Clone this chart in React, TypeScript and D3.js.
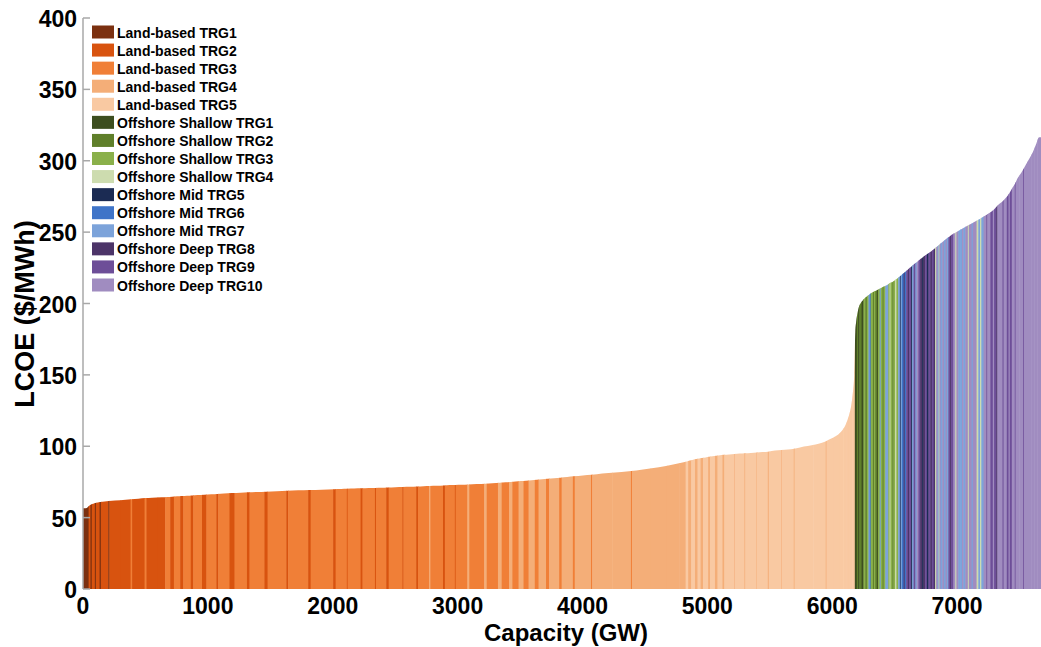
import React from 'react';
import * as d3 from 'd3';

const categories = [
  'Land-based TRG1', 'Land-based TRG2', 'Land-based TRG3', 'Land-based TRG4', 'Land-based TRG5',
  'Offshore Shallow TRG1', 'Offshore Shallow TRG2', 'Offshore Shallow TRG3', 'Offshore Shallow TRG4',
  'Offshore Mid TRG5', 'Offshore Mid TRG6', 'Offshore Mid TRG7',
  'Offshore Deep TRG8', 'Offshore Deep TRG9', 'Offshore Deep TRG10',
];
const categoryColors = [
  '#7b3010', '#d8530f', '#f07f37', '#f4ae78', '#f9c9a2',
  '#3d4e1f', '#5f7f2a', '#8ab04a', '#cddcaf',
  '#1b2b53', '#3f74c8', '#7ca3da',
  '#4c3468', '#6d4e98', '#a08cc0',
];
const xTicks = [0, 1000, 2000, 3000, 4000, 5000, 6000, 7000];
const yTicks = [0, 50, 100, 150, 200, 250, 300, 350, 400];

// [category index, capacity (GW), LCOE ($/MWh)]
const onshoreBlocks: [number, number, number][] = [
  [0, 45, 56.5], [1, 15, 58.5], [0, 10, 59.2], [1, 25, 59.8], [0, 8, 60.2],
  [1, 30, 60.6], [0, 10, 60.9], [1, 60, 61.3], [0, 8, 61.6], [1, 90, 62.0],
  [1, 80, 62.6], [2, 12, 62.9], [1, 100, 63.3], [2, 15, 63.7], [1, 90, 64.0],
  [1, 60, 64.3], [2, 40, 64.5], [1, 30, 64.7], [2, 50, 64.9], [1, 25, 65.1],
  [2, 60, 65.3], [1, 20, 65.5], [2, 70, 65.8], [1, 35, 66.1], [2, 80, 66.4],
  [1, 15, 66.6], [2, 90, 66.9], [1, 40, 67.2], [2, 100, 67.5], [1, 20, 67.7],
  [2, 120, 68.0], [1, 25, 68.2], [2, 150, 68.5], [1, 15, 68.8], [2, 160, 69.1],
  [1, 20, 69.3], [2, 180, 69.6], [1, 20, 69.9], [2, 90, 70.05], [1, 6, 70.2],
  [2, 104, 70.35], [1, 15, 70.5], [2, 100, 70.7], [1, 8, 70.8], [2, 82, 70.9],
  [1, 20, 71.1], [2, 110, 71.35], [1, 8, 71.5], [2, 102, 71.6], [1, 15, 71.8],
  [2, 90, 72.05], [3, 8, 72.2], [2, 102, 72.3], [1, 15, 72.5], [2, 80, 72.8],
  [1, 6, 72.9], [2, 94, 73.0], [3, 15, 73.2], [2, 120, 73.5], [3, 20, 73.8],
  [2, 90, 74.1], [3, 30, 74.4], [2, 60, 74.7], [3, 25, 75.0], [2, 50, 75.3],
  [3, 40, 75.6], [2, 40, 75.9], [3, 50, 76.2], [2, 30, 76.5], [3, 60, 76.9],
  [2, 25, 77.2], [3, 80, 77.6], [2, 20, 78.0], [3, 90, 78.5], [2, 15, 78.9],
  [3, 130, 79.5], [2, 10, 80.0], [3, 160, 80.9], [3, 150, 82.0], [2, 8, 82.6],
  [3, 150, 83.6], [3, 130, 85.3], [3, 100, 87.2], [3, 50, 88.6], [4, 20, 89.4],
  [3, 25, 90.0], [4, 30, 90.6], [3, 20, 91.0], [4, 25, 91.4], [3, 20, 91.8],
  [4, 40, 92.2], [3, 15, 92.6], [4, 40, 93.0], [3, 20, 93.4], [4, 40, 93.7],
  [3, 15, 94.0], [4, 80, 94.3], [3, 5, 94.6], [4, 75, 94.9], [3, 8, 95.1],
  [4, 90, 95.3], [3, 5, 95.6], [4, 85, 95.9], [3, 8, 96.2], [4, 100, 97.0],
  [3, 5, 97.4], [4, 95, 97.8], [3, 6, 98.3], [4, 150, 99.8], [4, 100, 102.0],
  [3, 6, 103.5], [4, 60, 105.0], [4, 45, 107.5], [4, 30, 110.5], [4, 25, 114.0],
  [4, 20, 119.0], [4, 15, 124.0], [4, 12, 130.0], [4, 10, 138.0], [4, 10, 150.0],
];

const offshoreBlocks: [number, number, number][] = [
  [5, 8, 180], [5, 8, 188], [6, 10, 193], [5, 10, 197], [6, 18, 200],
  [5, 15, 202], [7, 15, 203.5], [6, 12, 204.5], [7, 13, 205.5], [11, 10, 206.2],
  [10, 8, 206.8], [7, 18, 207.5], [6, 8, 208], [7, 10, 208.5], [6, 14, 209],
  [5, 8, 209.5], [7, 14, 210], [11, 8, 210.5], [7, 15, 211], [6, 8, 211.5],
  [7, 14, 212], [11, 12, 212.6], [11, 12, 213.2], [7, 10, 213.8], [8, 8, 214.3],
  [7, 15, 214.8], [6, 8, 215.3], [7, 14, 216], [8, 10, 216.8], [7, 14, 217.5],
  [11, 14, 218.5], [9, 6, 219.2], [11, 10, 219.8], [10, 14, 220.8], [12, 8, 221.5],
  [10, 12, 222.3], [13, 14, 223.3], [12, 10, 224.2], [13, 16, 225.3], [9, 8, 226],
  [11, 12, 226.8], [13, 14, 227.8], [11, 10, 228.6], [14, 14, 229.5], [13, 14, 230.5],
  [12, 16, 231.5], [9, 10, 232.3], [12, 14, 233.2], [13, 14, 234], [9, 12, 234.8],
  [13, 16, 235.7], [12, 12, 236.5], [13, 14, 237.4], [12, 12, 238.3], [8, 8, 239],
  [14, 12, 239.8], [11, 8, 240.5], [8, 6, 241], [14, 10, 241.7], [11, 14, 242.6],
  [14, 12, 243.5], [11, 14, 244.4], [14, 10, 245.2], [11, 12, 246], [13, 14, 246.8],
  [12, 8, 247.5], [13, 18, 248.3], [14, 16, 249.2], [8, 8, 249.8], [14, 16, 250.5],
  [11, 14, 251.2], [11, 16, 252], [14, 10, 252.6], [11, 16, 253.3], [14, 20, 254.2],
  [8, 8, 254.8], [14, 22, 255.6], [11, 10, 256.2], [14, 30, 257.3], [8, 14, 258.3],
  [11, 14, 259], [8, 10, 259.6], [11, 18, 260.4], [14, 22, 261.4], [13, 8, 262.1],
  [14, 24, 263.2], [13, 20, 264.5], [14, 10, 265.5], [13, 18, 266.8], [12, 8, 268],
  [14, 20, 269.3], [14, 22, 270.8], [13, 8, 271.8], [14, 26, 273.5], [13, 14, 275.5],
  [14, 10, 277], [13, 16, 279], [14, 24, 282], [13, 6, 284], [14, 30, 287.5],
  [14, 30, 291.5], [13, 6, 294], [14, 30, 297], [14, 30, 301.5], [14, 24, 306],
  [14, 24, 311], [14, 30, 316.5],
];

const FONT = 'Arial, "Liberation Sans", sans-serif';

export default function App() {
  const width = 1041;
  const height = 647;
  const x = d3.scaleLinear().domain([0, 7672]).range([83, 1041]);
  const y = d3.scaleLinear().domain([0, 400]).range([589, 18]);

  const blocks = [...onshoreBlocks, ...offshoreBlocks];
  let cum = 0;
  const bars = blocks.map(([c, w, v]) => {
    const x0 = cum;
    cum += w;
    return { c, x0, x1: cum, v };
  });

  // smooth supply-curve envelope through each block's midpoint
  const envPts = [
    { p: 0, v: bars[0].v },
    ...bars.map((b) => ({ p: (b.x0 + b.x1) / 2, v: b.v })),
    { p: cum, v: bars[bars.length - 1].v },
  ];
  const envelope = d3
    .area<{ p: number; v: number }>()
    .x((d) => x(d.p))
    .y0(y(0))
    .y1((d) => y(d.v))
    .curve(d3.curveMonotoneX)(envPts) as string;

  const legendRow = d3.scaleLinear().domain([0, 14]).range([32, 285]);

  return (
    <svg
      width={width}
      height={height}
      style={{ position: 'absolute', left: 0, top: 0, background: '#fff' }}
      fontFamily={FONT}
    >
      <defs>
        <clipPath id="supply-clip">
          <path d={envelope} />
        </clipPath>
      </defs>
      <g clipPath="url(#supply-clip)">
        {bars.map((b, i) => (
          <rect
            key={i}
            x={x(b.x0)}
            y={y(400)}
            width={Math.max(0.5, x(b.x1) - x(b.x0) + 0.5)}
            height={y(0) - y(400)}
            fill={categoryColors[b.c]}
          />
        ))}
      </g>
      {/* y axis */}
      <line x1={x(0)} x2={x(0)} y1={y(0)} y2={y(400)} stroke="#a8a8a8" strokeWidth={1.5} />
      {yTicks.map((t) => (
        <g key={t}>
          <line x1={x(0)} x2={x(0) + 7} y1={y(t)} y2={y(t)} stroke="#a8a8a8" strokeWidth={1.5} />
          <text
            x={77}
            y={y(t) + 1}
            textAnchor="end"
            dominantBaseline="central"
            fontSize={23}
            fontWeight="bold"
            fill="#000"
          >
            {t}
          </text>
        </g>
      ))}
      {xTicks.map((t) => (
        <text
          key={t}
          x={x(t)}
          y={614}
          textAnchor="middle"
          fontSize={23}
          fontWeight="bold"
          fill="#000"
        >
          {t}
        </text>
      ))}
      <text x={566} y={641} textAnchor="middle" fontSize={24} fontWeight="bold" fill="#000">
        Capacity (GW)
      </text>
      <text
        transform={`translate(34,314) rotate(-90)`}
        textAnchor="middle"
        fontSize={27}
        fontWeight="bold"
        fill="#000"
      >
        LCOE ($/MWh)
      </text>
      {/* legend */}
      {categories.map((name, i) => (
        <g key={name} transform={`translate(0,${legendRow(i)})`}>
          <rect x={92} y={-6.5} width={22} height={13} fill={categoryColors[i]} />
          <text x={117} y={0.5} dominantBaseline="central" fontSize={14} fontWeight="bold" fill="#000">
            {name}
          </text>
        </g>
      ))}
    </svg>
  );
}
